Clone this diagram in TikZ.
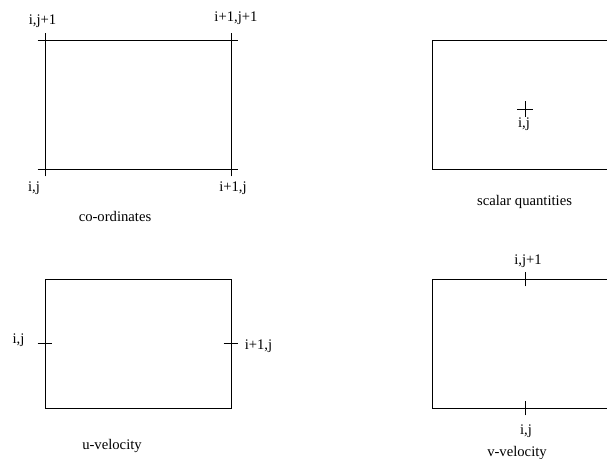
\documentclass[tikz,border=0pt]{standalone}
\usepackage{fontspec}
\setmainfont{Liberation Serif}
\usetikzlibrary{positioning}
\tikzset{
  cell/.style={draw, minimum width=139.5pt, minimum height=96.75pt, inner sep=0pt, outer sep=0pt},
  lbl/.style={inner sep=0pt, font=\fontsize{11}{13}\selectfont},
}
\newcommand{\hmark}[1]{\draw ([xshift=-5.6pt]#1) -- ([xshift=5.6pt]#1);}
\newcommand{\vmark}[1]{\draw ([yshift=-5.6pt]#1) -- ([yshift=5.6pt]#1);}

\begin{document}
\begin{tikzpicture}[x=0.75pt, y=-0.75pt, line width=0.7pt]
	\useasboundingbox (0,0) rectangle (607,459);
	\clip (0,0) rectangle (607,459);

	% co-ordinates
	\node[cell] (co) at (138,104.5) {};
	\foreach \c in {north west,north east,south west,south east} {
		\hmark{co.\c} \vmark{co.\c}
	}
	\node[lbl] (co1) at (42.5,21) {i,j+1};
	\node[lbl] (co2) at (236,18) {i+1,j+1};
	\node[lbl] (co3) at (34,188) {i,j};
	\node[lbl] (co4) at (233,188) {i+1,j};
	\node[lbl] (cocap) at (115,216) {co-ordinates};

	% scalar quantities
	\node[cell] (sc) at (525,104.5) {};
	\coordinate (scp) at (525,109);
	\draw ([xshift=-6pt]scp) -- ([xshift=6pt]scp);
	\draw ([yshift=-6pt]scp) -- ([yshift=6pt]scp);
	\node[lbl] (sc1) at (524,124) {i,j};
	\node[lbl] (sccap) at (524.5,202) {scalar quantities};

	% u-velocity
	\node[cell] (uv) at (138,343.5) {};
	\hmark{uv.west} \hmark{uv.east}
	\node[lbl] (uv1) at (18.5,340) {i,j};
	\node[lbl] (uv2) at (258.5,346) {i+1,j};
	\node[lbl] (uvcap) at (112,446) {u-velocity};

	% v-velocity
	\node[cell] (vv) at (525,343.5) {};
	\vmark{vv.north} \vmark{vv.south}
	\node[lbl] (vv1) at (528,261) {i,j+1};
	\node[lbl] (vv2) at (526,431) {i,j};
	\node[lbl] (vvcap) at (517,453) {v-velocity};
\end{tikzpicture}
\end{document}
